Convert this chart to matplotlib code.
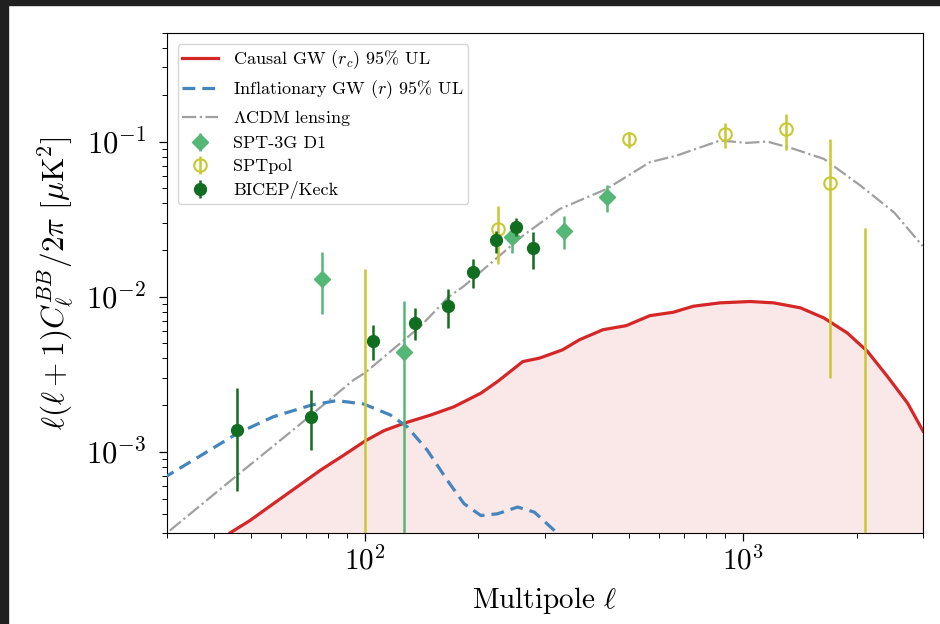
import matplotlib
matplotlib.use('Agg')
import matplotlib.pyplot as plt
from matplotlib.patches import Rectangle
import numpy as np

plt.rcParams['font.family'] = 'serif'
plt.rcParams['font.serif'] = ['cmr10']
plt.rcParams['mathtext.fontset'] = 'cm'
plt.rcParams['axes.formatter.use_mathtext'] = True
plt.rcParams['axes.unicode_minus'] = True

# Causal GW (r_c) 95% UL
causal_ell = [44, 49.7, 57.3, 66.1, 76.3, 88, 100.4, 112.3, 126.9, 149.5, 172.4,
              202.9, 224.6, 262, 290, 334, 370, 427, 492, 568, 655, 740, 871,
              1047, 1207, 1421, 1639, 1891, 2138, 2415, 2730, 3000]
causal_cl = [3.0e-4, 3.61e-4, 4.63e-4, 5.93e-4, 7.61e-4, 9.52e-4, 1.178e-3,
             1.368e-3, 1.528e-3, 1.728e-3, 1.955e-3, 2.39e-3, 2.84e-3, 3.82e-3,
             4.02e-3, 4.55e-3, 5.28e-3, 6.13e-3, 6.51e-3, 7.55e-3, 7.94e-3,
             8.68e-3, 9.13e-3, 9.31e-3, 9.13e-3, 8.48e-3, 7.3e-3, 5.84e-3,
             4.44e-3, 3.06e-3, 2.06e-3, 1.36e-3]

# Inflationary GW (r) 95% UL
infl_ell = [29.2, 35.8, 46, 57.3, 72.4, 84.4, 99.4, 117, 129.5, 146.4, 165.4,
            183.2, 202.9, 224.6, 253.8, 281.1, 317.7]
infl_cl = [6.73e-4, 9.07e-4, 1.315e-3, 1.684e-3, 2.005e-3, 2.14e-3, 2.035e-3,
           1.728e-3, 1.451e-3, 1.026e-3, 6.56e-4, 4.63e-4, 3.89e-4, 3.99e-4,
           4.41e-4, 4.09e-4, 3.11e-4]

# LCDM lensing
lens_ell = [30.5, 44, 65, 93.5, 100, 140, 167, 183, 262, 327.6, 435.9, 568,
            668.7, 871, 1026, 1160, 1364, 1639, 2051, 2515, 2992]
lens_cl = [3.11e-4, 6.47e-4, 1.4e-3, 2.91e-3, 3.22e-3, 6.4e-3, 1.0e-2, 1.17e-2,
           2.47e-2, 3.67e-2, 4.94e-2, 7.36e-2, 8.12e-2, 0.1015, 0.098, 0.1,
           0.0897, 0.0773, 0.0519, 0.0349, 0.0212]

# SPT-3G D1
spt3g_ell = [77, 127, 246, 337, 438]
spt3g_cl = [1.31e-2, 4.4e-3, 2.43e-2, 2.65e-2, 4.37e-2]
spt3g_lo = [7.7e-3, 1e-5, 1.9e-2, 2.04e-2, 3.49e-2]
spt3g_hi = [1.95e-2, 9.45e-3, 2.79e-2, 3.29e-2, 5.25e-2]

# SPTpol
sptpol_ell = [100, 225, 499, 900, 1305, 1706, 2106]
sptpol_cl = [1e-4, 2.72e-2, 0.104, 0.112, 0.12, 5.4e-2, 1e-4]
sptpol_lo = [1e-5, 1.62e-2, 0.0906, 0.091, 0.0884, 3.0e-3, 1e-5]
sptpol_hi = [1.5e-2, 3.82e-2, 0.115, 0.1315, 0.151, 0.104, 2.79e-2]

# BICEP/Keck
bk_ell = [46, 72, 105, 136, 166, 194, 222, 251, 278]
bk_cl = [1.38e-3, 1.69e-3, 5.15e-3, 6.78e-3, 8.68e-3, 1.45e-2, 2.31e-2, 2.82e-2, 2.07e-2]
bk_lo = [5.6e-4, 1.03e-3, 3.93e-3, 5.23e-3, 6.3e-3, 1.14e-2, 1.92e-2, 2.47e-2, 1.5e-2]
bk_hi = [2.58e-3, 2.51e-3, 6.55e-3, 8.4e-3, 1.12e-2, 1.74e-2, 2.65e-2, 3.2e-2, 2.6e-2]

COLOR_CAUSAL = '#d62728'
COLOR_INFL = '#4585bd'
COLOR_LENS = '#a0a0a0'
COLOR_SPT3G = '#55b776'
COLOR_SPTPOL = '#c8c832'
COLOR_BK = '#116d1f'


def _yerr(val, lo, hi):
    val = np.asarray(val)
    return [val - np.asarray(lo), np.asarray(hi) - val]


fig = plt.figure(figsize=(9.4, 6.24), dpi=100)
ax = fig.add_axes([0.1777, 0.1458, 0.8043, 0.8012])

ax.fill_between(causal_ell, causal_cl, 1e-6, color=COLOR_CAUSAL, alpha=0.11,
                linewidth=0, zorder=1)
ax.plot(causal_ell, causal_cl, color=COLOR_CAUSAL, lw=2.3,
        label=r'Causal GW ($r_c$) 95% UL', zorder=3)
ax.plot(infl_ell, infl_cl, color=COLOR_INFL, lw=2.3, ls=(0, (4, 2.2)),
        label=r'Inflationary GW ($r$) 95% UL', zorder=3)
ax.plot(lens_ell, lens_cl, color=COLOR_LENS, lw=1.6, ls='-.',
        label=r'$\Lambda$CDM lensing', zorder=2)

ax.errorbar(spt3g_ell, spt3g_cl, yerr=_yerr(spt3g_cl, spt3g_lo, spt3g_hi),
            fmt='D', color=COLOR_SPT3G, ms=8, elinewidth=1.8, capsize=0,
            label='SPT-3G D1', zorder=4)
ax.errorbar(sptpol_ell, sptpol_cl, yerr=_yerr(sptpol_cl, sptpol_lo, sptpol_hi),
            fmt='o', color=COLOR_SPTPOL, mfc='none', mew=1.5, ms=9,
            elinewidth=1.8, capsize=0, label='SPTpol', zorder=4)
ax.errorbar(bk_ell, bk_cl, yerr=_yerr(bk_cl, bk_lo, bk_hi),
            fmt='o', color=COLOR_BK, ms=8.5, elinewidth=1.8, capsize=0,
            label='BICEP/Keck', zorder=5)

ax.set_xscale('log')
ax.set_yscale('log')
ax.set_xlim(30, 3000)
ax.set_ylim(3e-4, 0.5)

ax.set_xlabel(r'Multipole $\ell$', fontsize=21, labelpad=7)
ax.set_ylabel(r'$\ell(\ell+1)C_\ell^{BB}/2\pi\ [\mu\mathrm{K}^2]$', fontsize=22.5,
              labelpad=8)
ax.tick_params(which='major', length=6, width=0.9)
ax.tick_params(which='minor', length=3.5, width=0.7)
ax.tick_params(axis='x', which='major', labelsize=21)
ax.tick_params(axis='y', which='major', labelsize=22, pad=9)

ax.legend(loc='upper left', fontsize=13, handlelength=2.0, labelspacing=0.4,
          borderpad=0.25, borderaxespad=0.6)

# dark screenshot border
fig.patches.append(Rectangle((0, 1 - 5 / 624), 1, 5 / 624, transform=fig.transFigure,
                             color='#202020', zorder=10))
fig.patches.append(Rectangle((0, 0), 8 / 940, 1, transform=fig.transFigure,
                             color='#202020', zorder=10))

fig.savefig('out.png', dpi=100)
plt.close(fig)
